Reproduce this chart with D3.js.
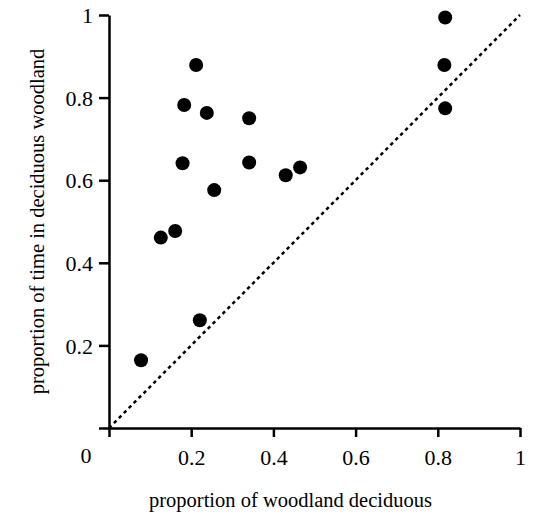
<!DOCTYPE html>
<html>
<head>
<meta charset="utf-8">
<script src="https://cdn.jsdelivr.net/npm/d3@7"></script>
<style>
    body { margin: 0; background: #fff; }
    svg text { font-family: "Liberation Serif", "Times New Roman", Times, "DejaVu Serif", serif !important; fill: #000; }
</style>
</head>
<body>
<svg class="chart"></svg>
<script>
// woodland deciduous proportion vs time spent in deciduous woodland
var woodlandDeciduous = [0.078, 0.126, 0.161, 0.179, 0.183, 0.212, 0.221, 0.238,
                         0.256, 0.341, 0.341, 0.430, 0.465, 0.818, 0.816, 0.818];
var timeDeciduous = [0.164, 0.461, 0.477, 0.641, 0.782, 0.879, 0.261, 0.763,
                     0.576, 0.750, 0.643, 0.612, 0.631, 0.994, 0.879, 0.774];
var tickValues = [0, 0.2, 0.4, 0.6, 0.8, 1];
var diagonal = [0, 1];

(function () {
    'use strict';

    var serif = '"Liberation Serif", "Times New Roman", Times, serif';
    var margin = { top: 15, bottom: 89, right: 13, left: 109 },
        width = 533 - margin.left - margin.right,
        height = 517 - margin.top - margin.bottom;

    var chart = d3.select(".chart")
        .attr("width", width + margin.left + margin.right)
        .attr("height", height + margin.top + margin.bottom)
        .append("g")
        .attr("transform", "translate(" + margin.left + "," + margin.top + ")");

    var x = d3.scaleLinear().domain([0, 1]).range([0, width]);
    var y = d3.scaleLinear().domain([0, 1]).range([height, 0]);

    var fmt = function (d) { return d === 0 ? "" : d3.format("")(d); };

    var xAxis = chart.append("g")
        .attr("transform", "translate(0," + height + ")")
        .call(d3.axisBottom(x).tickValues(tickValues).tickFormat(fmt)
            .tickSize(9).tickSizeOuter(0).tickPadding(12));

    var yAxis = chart.append("g")
        .call(d3.axisLeft(y).tickValues(tickValues).tickFormat(fmt)
            .tickSize(10).tickSizeOuter(0).tickPadding(6));

    [xAxis, yAxis].forEach(function (a) {
        a.attr("font-family", null);
        a.selectAll("path, line").attr("stroke", "#000").attr("stroke-width", 2.5);
        a.selectAll("text").style("font-size", "22px")
            .style("font-family", serif).attr("fill", "#000");
    });
    yAxis.selectAll("text").attr("dy", "0.35em");

    // shared origin label
    chart.append("text")
        .attr("x", -23).attr("y", height + 35)
        .attr("text-anchor", "middle")
        .style("font-size", "22px")
        .style("font-family", serif)
        .text("0");

    // 1:1 reference line
    chart.append("line")
        .attr("x1", x(diagonal[0])).attr("y1", y(diagonal[0]))
        .attr("x2", x(diagonal[1])).attr("y2", y(diagonal[1]))
        .attr("stroke", "#000")
        .attr("stroke-width", 2.5)
        .attr("stroke-dasharray", "3.5,3.5");

    chart.selectAll("circle").data(woodlandDeciduous).enter()
        .append("circle")
        .attr("cx", function (d) { return x(d); })
        .attr("cy", function (d, i) { return y(timeDeciduous[i]); })
        .attr("r", 7)
        .attr("fill", "#000");

    chart.append("text")
        .attr("x", width / 2 - 24).attr("y", height + 79)
        .attr("text-anchor", "middle")
        .style("font-size", "20.5px")
        .style("font-family", serif)
        .text("proportion of woodland deciduous");

    chart.append("text")
        .attr("transform", "translate(" + (-65) + "," + (height / 2) + ") rotate(-90)")
        .attr("text-anchor", "middle")
        .style("font-size", "20.5px")
        .style("font-family", serif)
        .text("proportion of time in deciduous woodland");
})();
</script>
</body>
</html>
